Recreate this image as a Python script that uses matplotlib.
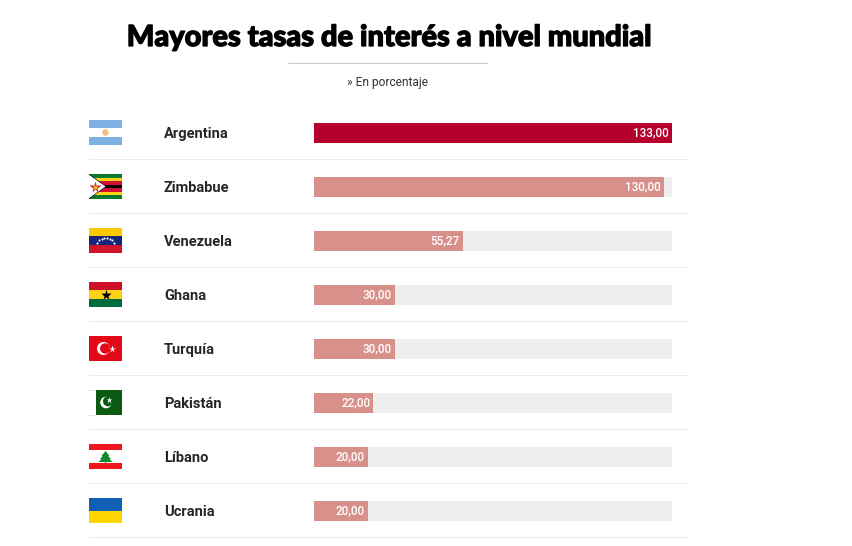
#!/usr/bin/env python3
# -*- coding: utf-8 -*-
"""
Mayores tasas de interes a nivel mundial
Horizontal bars with a flag next to each country
"""

import matplotlib
matplotlib.use('Agg')
import matplotlib.pyplot as plt
import matplotlib.patheffects as pe
from matplotlib.patches import Rectangle, Circle, Polygon

plt.rcParams['font.family'] = ['Roboto', 'DejaVu Sans']

#%%
countries = ['Argentina', 'Zimbabue', 'Venezuela', 'Ghana', 'Turquía', 'Pakistán', 'Líbano', 'Ucrania']
rates = [133.00, 130.00, 55.27, 30.00, 30.00, 22.00, 20.00, 20.00]
rate_labels = ['133,00', '130,00', '55,27', '30,00', '30,00', '22,00', '20,00', '20,00']
max_rate = 133.00

title_text = 'Mayores tasas de interés a nivel mundial'
subtitle_text = '» En porcentaje'

W, H = 852, 546
ROW = 54
TOP = 106


def stripes(ax, y0, colors, x0=89, w=33, h=25):
    n = len(colors)
    for i, c in enumerate(colors):
        ax.add_patch(Rectangle((x0, y0 + i * h / n), w, h / n, fc=c, ec='none', zorder=2))


def flag_argentina(ax, y0):
    stripes(ax, y0, ['#7fb2e2', '#ffffff', '#7fb2e2'])
    ax.add_patch(Circle((105.5, y0 + 12.5), 3.2, fc='#f2bf7a', ec='none', zorder=3))


def flag_zimbabwe(ax, y0):
    stripes(ax, y0, ['#0b7a2a', '#fcd116', '#d21034', '#000000', '#d21034', '#fcd116', '#0b7a2a'])
    ax.add_patch(Polygon([(89, y0), (106.5, y0 + 12.5), (89, y0 + 25)], fc='#000000', ec='none', zorder=3))
    ax.add_patch(Polygon([(89, y0 + 0.8), (105.5, y0 + 12.5), (89, y0 + 24.2)], fc='#ffffff', ec='none', zorder=4))
    ax.plot([95], [y0 + 12.5], marker='*', ms=8.5, mfc='#d21034', mec='none', zorder=5)
    ax.plot([95], [y0 + 12.5], marker='s', ms=2.5, mfc='#e0b020', mec='none', zorder=6)


def flag_venezuela(ax, y0):
    stripes(ax, y0, ['#fcc900', '#14257a', '#cf142b'])
    star_pos = [(97, 14.5), (99, 12.2), (101.5, 10.6), (104, 9.8), (107, 9.8), (109.5, 10.6), (112, 12.2), (114, 14.5)]
    for sx, sy in star_pos:
        ax.plot([sx], [y0 + sy], marker='o', ms=1.5, mfc='#ffffff', mec='none', zorder=3)


def flag_ghana(ax, y0):
    stripes(ax, y0, ['#ce1126', '#fcd116', '#006b3f'])
    ax.plot([105.5], [y0 + 12.5], marker='*', ms=8, mfc='#000000', mec='none', zorder=3)


def flag_turkey(ax, y0):
    stripes(ax, y0, ['#e30a17'])
    ax.add_patch(Circle((103.5, y0 + 12.5), 6.5, fc='#ffffff', ec='none', zorder=3))
    ax.add_patch(Circle((105.2, y0 + 12.5), 5.2, fc='#e30a17', ec='none', zorder=4))
    ax.plot([112], [y0 + 12.5], marker='*', ms=5.5, mfc='#ffffff', mec='none', zorder=5)


def flag_pakistan(ax, y0):
    ax.plot([89, 96], [y0 + 0.3, y0 + 0.3], color='#dfe8df', lw=0.7, zorder=2)
    ax.plot([89, 96], [y0 + 24.7, y0 + 24.7], color='#dfe8df', lw=0.7, zorder=2)
    ax.add_patch(Rectangle((96, y0), 26, 25, fc='#0b5a12', ec='none', zorder=2))
    ax.add_patch(Circle((106, y0 + 12.5), 5.8, fc='#ffffff', ec='none', zorder=3))
    ax.add_patch(Circle((108, y0 + 11.3), 5, fc='#0b5a12', ec='none', zorder=4))
    ax.plot([109], [y0 + 10], marker='*', ms=4.5, mfc='#ffffff', mec='none', zorder=5)


def flag_lebanon(ax, y0):
    stripes(ax, y0, ['#ee161f', '#ffffff', '#ffffff', '#ee161f'])
    ax.add_patch(Polygon([(105.5, y0 + 7), (101.5, y0 + 12), (109.5, y0 + 12)], fc='#0d8a2c', ec='none', zorder=3))
    ax.add_patch(Polygon([(105.5, y0 + 9), (100, y0 + 15), (111, y0 + 15)], fc='#0d8a2c', ec='none', zorder=3))
    ax.add_patch(Polygon([(105.5, y0 + 11), (98.5, y0 + 18), (112.5, y0 + 18)], fc='#0d8a2c', ec='none', zorder=3))
    ax.add_patch(Rectangle((104.7, y0 + 17), 1.6, 2, fc='#7a5a30', ec='none', zorder=4))


def flag_ukraine(ax, y0):
    stripes(ax, y0, ['#0f60b6', '#ffd500'])


flag_funcs = [flag_argentina, flag_zimbabwe, flag_venezuela, flag_ghana,
              flag_turkey, flag_pakistan, flag_lebanon, flag_ukraine]

#%%
fig = plt.figure(figsize=(W / 100, H / 100), dpi=100, facecolor='white')

# overlay in pixel units for the text, rules and flags
page = fig.add_axes([0, 0, 1, 1])
page.set_xlim(0, W)
page.set_ylim(H, 0)
page.axis('off')

page.text(388.5, 38, title_text, ha='center', va='center', fontsize=20.9,
          family=['Lato', 'DejaVu Sans'], fontweight='black', color='#000000',
          path_effects=[pe.withStroke(linewidth=0.9, foreground='#000000')])
page.plot([288, 488], [63, 63], color='#c8c8c8', lw=0.72, solid_capstyle='butt')
page.text(387.5, 82.5, subtitle_text, ha='center', va='center', fontsize=8.6, color='#333333')

for i, name in enumerate(countries):
    y_mid = 133 + i * ROW
    page.text(164, y_mid + 1, name, ha='left', va='center', fontsize=10.5,
              fontweight='bold', color='#262626')
    page.plot([88, 688], [y_mid + 26, y_mid + 26], color='#ebebeb', lw=0.72, solid_capstyle='butt')
    flag_funcs[i](page, y_mid - 13)

# bars
ax = fig.add_axes([314 / W, 1 - (TOP + 8 * ROW) / H, 358 / W, 8 * ROW / H])
ax.set_xlim(0, max_rate)
ax.set_ylim(len(countries) - 0.5, -0.5)
ax.axis('off')
ax.patch.set_alpha(0)

ypos = list(range(len(countries)))
bar_h = 20 / ROW
ax.barh(ypos, [max_rate] * len(rates), height=bar_h, color='#eeeeee', lw=0)
bar_colors = ['#b5002e'] + ['#d8918a'] * (len(rates) - 1)
ax.barh(ypos, rates, height=bar_h, color=bar_colors, lw=0)

for y, r, lab in zip(ypos, rates, rate_labels):
    ax.annotate(lab, (r, y), xytext=(-2.2, 0), textcoords='offset points',
                ha='right', va='center', fontsize=8.4, fontweight='medium', color='#ffffff')

fig.savefig('out.png', dpi=100)
